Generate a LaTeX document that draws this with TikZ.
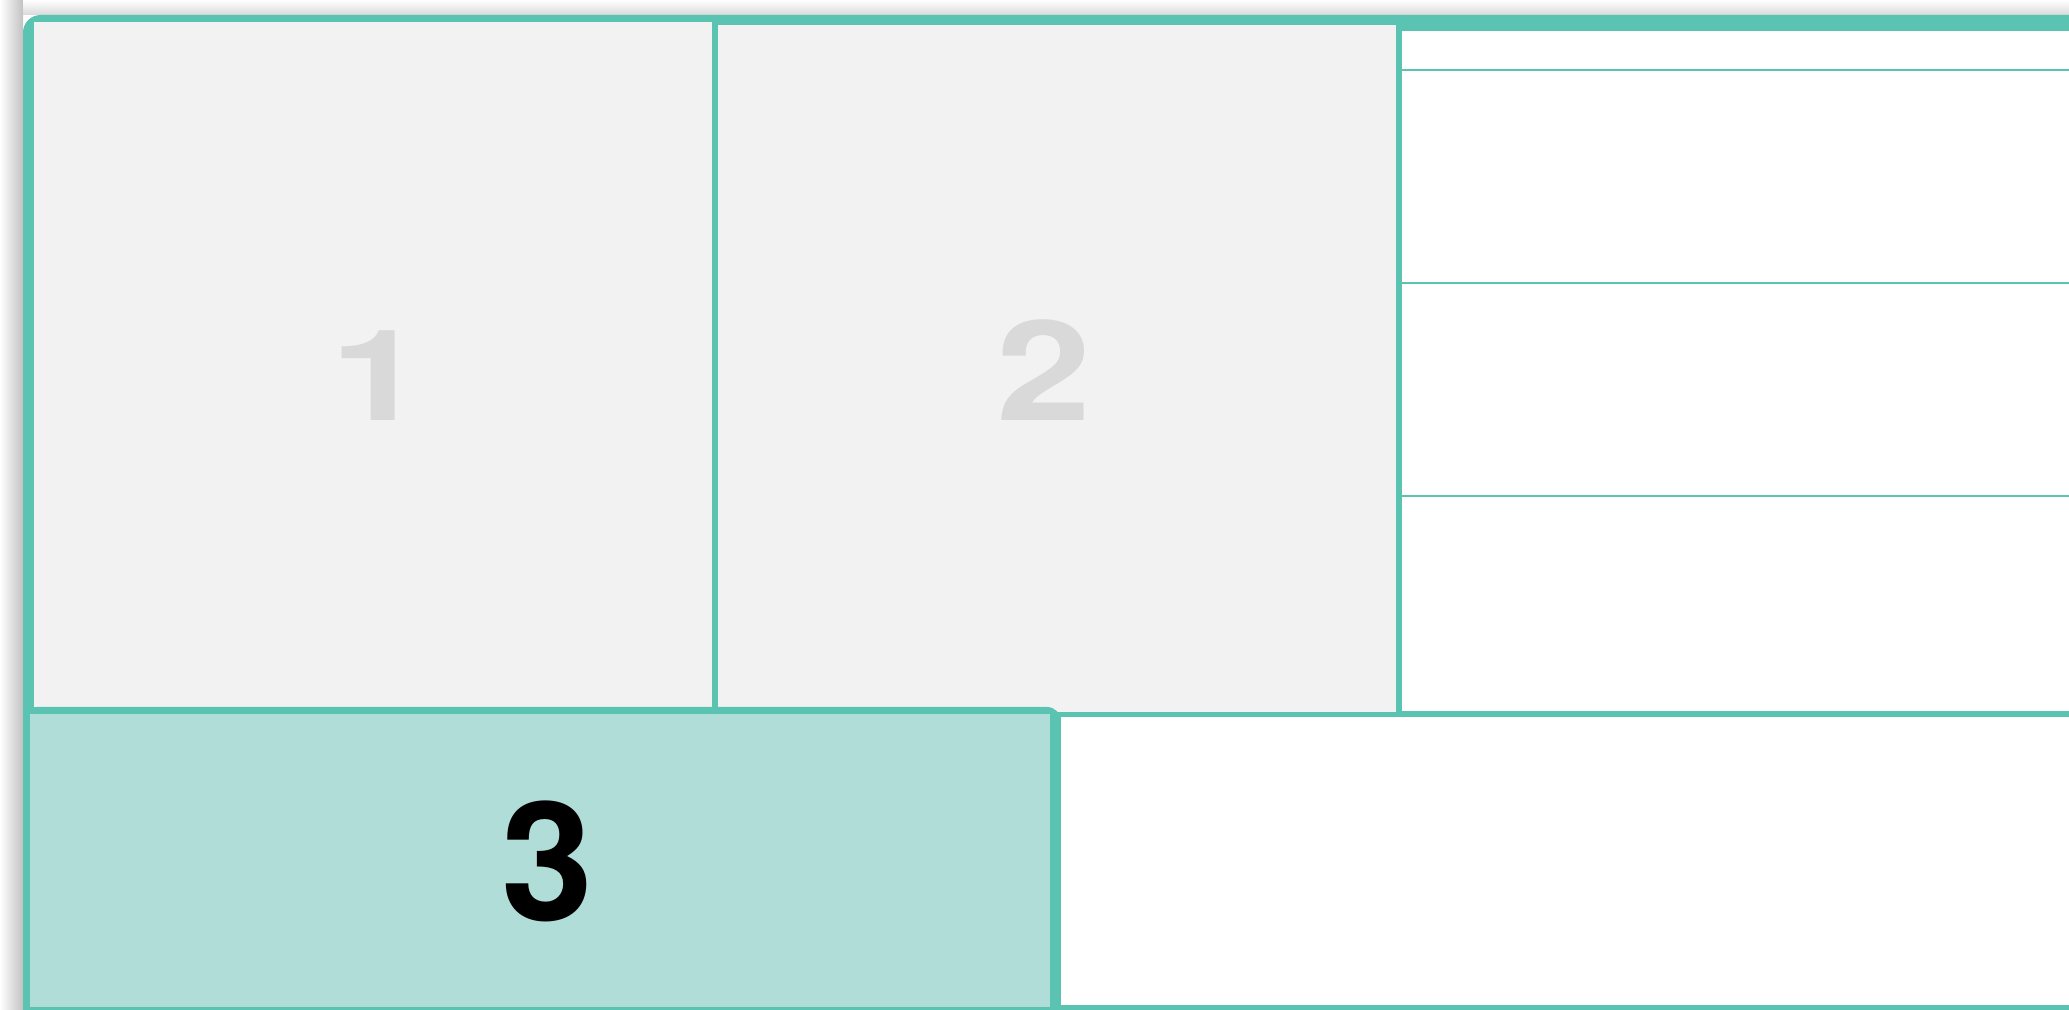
\documentclass[tikz,border=0pt]{standalone}
\usepackage{fontspec}
\setmainfont{TeX Gyre Heros}
\usepackage{tikz}
\usetikzlibrary{positioning}
\usepackage{xcolor}

\definecolor{frameteal}{RGB}{91,195,177}
\definecolor{cellgray}{RGB}{242,242,242}
\definecolor{cellteal}{RGB}{176,221,215}
\definecolor{digitgray}{RGB}{217,217,217}

\begin{document}
\begin{tikzpicture}[
  x=0.01cm, y=-0.01cm,
  greycell/.style={fill=cellgray},
  whitecell/.style={fill=white},
  rowline/.style={frameteal, line width=0.02cm},
  bigdigit/.style={font=\bfseries\fontsize{36}{42}\selectfont, text=digitgray, inner sep=0pt, anchor=base},
  pickdigit/.style={font=\bfseries\fontsize{47}{56}\selectfont, text=black, inner sep=0pt, anchor=base}
]
\useasboundingbox (0,0) rectangle (2069,1010);
\clip (0,0) rectangle (2069,1010);

% drop shadow of the frame, left and top
\shade[left color=white, right color=black!24] (0,0) rectangle (23,1010);
\shade[top color=white, bottom color=black!15] (23,0) rectangle (2069,15);

% frame: teal base, panels laid on top leave the gaps
\fill[frameteal, rounded corners=5] (23,15) rectangle (2120,1060);
\fill[greycell] (34,22) rectangle (712,707);
\fill[greycell] (718,25) rectangle (1396,712);
\fill[whitecell] (1402,31) rectangle (2069,711);

% thin rows in the right column
\coordinate (rowA) at (1402,70);
\coordinate (rowB) at (1402,283);
\coordinate (rowC) at (1402,496);
\draw[rowline] (rowA) -- +(700,0);
\draw[rowline] (rowB) -- +(700,0);
\draw[rowline] (rowC) -- +(700,0);

% selected cell 3 over the bottom row
\fill[frameteal, rounded corners=4] (23,707) rectangle (1061,1060);
\fill[cellteal] (30,714) rectangle (1050,1007);
\fill[whitecell] (1061,717) rectangle (2069,1005);

\node[bigdigit] (one) at (378,421) {\scalebox{1.35}[1]{1}};
\node[bigdigit] (two) at (1044,421) {\scalebox{1.35}[1.1]{2}};
\node[pickdigit] (three) at (547,921) {3};
\end{tikzpicture}
\end{document}
